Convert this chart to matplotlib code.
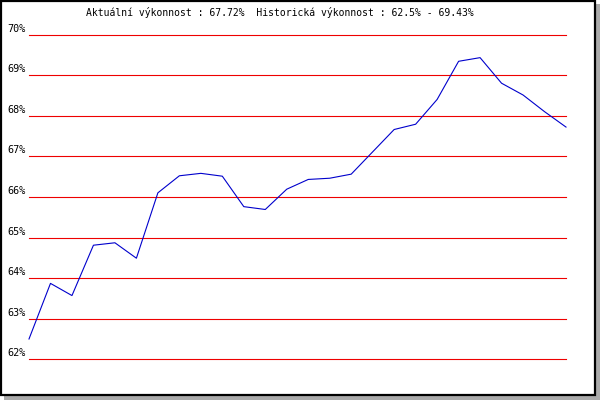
import matplotlib
matplotlib.use("Agg")
import matplotlib.pyplot as plt
from matplotlib.patches import Rectangle

# performance values (%), one per step
values = [62.50, 63.87, 63.57, 64.81, 64.87, 64.49, 66.10, 66.52, 66.58, 66.51,
          65.76, 65.69, 66.19, 66.43, 66.46, 66.56, 67.11, 67.66, 67.79, 68.40,
          69.34, 69.43, 68.80, 68.51, 68.10, 67.72]
y_ticks = [62, 63, 64, 65, 66, 67, 68, 69, 70]
tick_labels = ["62%", "63%", "64%", "65%", "66%", "67%", "68%", "69%", "70%"]
title = "Aktuální výkonnost : 67.72%  Historická výkonnost : 62.5% - 69.43%"

W, H = 600, 400
fig = plt.figure(figsize=(W / 100, H / 100), dpi=100)

# shadow and frame
fig.patches.append(Rectangle((4 / W, 0), 596 / W, 396 / H, transform=fig.transFigure,
                             facecolor="#aaaaaa", edgecolor="none", zorder=0))
fig.patches.append(Rectangle((1 / W, 5 / H), 594 / W, 394 / H, transform=fig.transFigure,
                             facecolor="white", edgecolor="black", linewidth=1.6, zorder=1))

ax = fig.add_axes([29 / W, 1 - 359.3 / H, 537 / W, (359.3 - 34.5) / H])
ax.set_zorder(5)
ax.set_xlim(0, len(values) - 1)
ax.set_ylim(62, 70)
ax.axis("off")

for t, lab in zip(y_ticks, tick_labels):
    ax.axhline(t, color="#ee0000", linewidth=0.8, zorder=1, clip_on=False)
    ax.annotate(lab, xy=(0, t), xycoords=("axes fraction", "data"),
                xytext=(-3, 1), textcoords="offset pixels",
                ha="right", va="bottom", fontsize=7.3, family="DejaVu Sans Mono")

ax.plot(range(len(values)), values, color="#0000cc", linewidth=0.8, zorder=2, clip_on=False)

fig.text(280 / W, 1 - 13 / H, title, ha="center", va="center",
         fontsize=7, family="DejaVu Sans Mono", zorder=6)

fig.savefig("out.png", dpi=100)
